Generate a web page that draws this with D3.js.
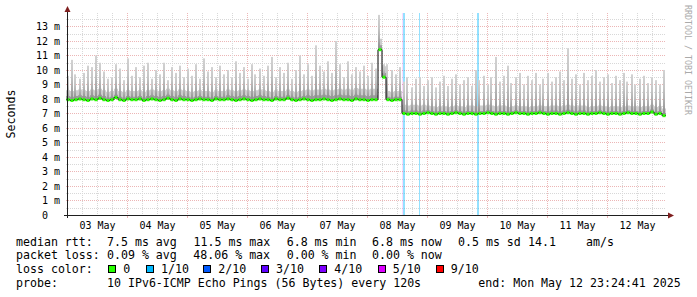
<!DOCTYPE html>
<html><head><meta charset="utf-8">
<script src="https://cdn.jsdelivr.net/npm/d3@7"></script>
<style>
html,body{margin:0;padding:0;background:#fff;}
svg{display:block;}
text{font-family:"DejaVu Sans Mono",monospace;}
</style></head><body>
<svg id="c" width="697" height="297"></svg>
<script>
// ---------------- data ----------------
const endTime = "2025-05-12T23:24:41Z";
const spanDays = 10;
const bucketMinutes = 96; // 150 buckets over 10 days

// highest ping per bucket (ms)
const maxPing = [
 9.6,10.7,9.7,9.4,9.8,10.3,10.2,11.0,10.5,9.9,
 9.4,9.5,10.4,10.1,9.3,10.8,9.6,10.2,9.5,10.3,
 10.5,9.4,10.0,9.7,10.5,9.3,10.2,9.8,10.3,9.5,
 10.1,9.6,10.4,9.4,10.8,9.9,10.2,9.5,10.3,9.7,
 10.0,9.5,10.6,9.8,10.2,9.4,10.4,9.7,10.1,9.6,
 10.3,10.9,9.5,10.2,9.8,10.5,9.4,10.0,11.0,9.7,
 10.4,9.6,11.7,10.3,9.9,10.6,9.8,12.0,10.4,9.5,
 10.6,9.7,10.2,9.9,10.3,9.6,10.5,10.1,13.8,10.4,
 10.4,10.0,9.7,10.2,9.2,9.5,8.8,9.4,9.5,8.9,
 9.3,9.5,8.8,9.2,9.6,8.9,9.4,9.7,9.0,9.3,
 9.5,8.9,10.0,9.3,9.6,9.0,9.5,10.9,9.2,9.6,
 10.3,9.1,9.5,9.8,9.0,9.6,9.3,9.8,9.0,9.4,
 9.8,9.2,9.5,9.9,9.3,11.5,9.4,9.7,9.0,9.8,
 9.3,9.6,10.0,9.2,9.5,9.7,9.1,9.6,9.3,9.8,
 9.2,9.7,9.0,9.4,9.6,9.1,9.5,9.3,9.0,10.0
];
// median rtt per bucket (ms)
const medianRtt = [
 7.95,7.9,7.95,8.0,7.95,7.9,8.0,7.95,8.05,7.95,
 7.9,7.95,8.1,7.95,7.9,8.0,7.95,7.95,8.0,7.9,
 7.95,8.0,7.95,7.9,7.95,8.05,7.95,7.9,8.0,7.95,
 7.95,7.9,7.95,8.0,7.95,7.95,7.9,8.0,7.95,7.95,
 8.0,7.95,7.9,7.95,8.0,7.95,7.9,7.95,8.0,7.95,
 7.95,7.9,8.0,7.95,7.95,8.05,7.95,7.9,7.95,8.0,
 7.95,7.9,7.95,7.95,8.0,7.95,7.9,7.95,8.0,7.95,
 7.95,7.9,8.0,7.95,7.95,7.9,7.95,7.95,11.4,9.5,
 7.95,7.9,7.95,7.95,
 7.0,6.95,7.0,7.0,6.95,7.0,7.05,7.0,6.95,7.0,
 7.0,6.95,7.0,7.05,7.0,6.95,7.0,7.0,6.95,7.0,
 7.0,7.05,7.0,6.95,7.0,7.0,6.95,7.0,7.05,7.0,
 7.0,6.95,7.0,7.0,7.05,7.0,6.95,7.0,7.0,6.95,
 7.0,7.05,7.0,6.95,7.0,7.0,6.95,7.0,7.0,7.05,
 7.0,6.95,7.0,7.0,6.95,7.0,7.05,7.0,7.0,6.95,
 7.0,7.0,7.1,6.95,7.0,6.85
];
// smoke depth above the median, per group of 10 buckets (ms)
const lightSmoke = [0.65,0.6,0.65,0.6,0.65,0.6,0.7,0.75,0.6,0.5,0.55,0.5,0.55,0.5,0.5];
const darkSmoke  = [0.25,0.2,0.25,0.2,0.25,0.2,0.3,0.3,0.2,0.18,0.18,0.18,0.2,0.18,0.18];

// loss periods
const lossPeriods = [
 {from:"2025-05-08T13:48:41Z", to:"2025-05-08T14:12:41Z", level:5},
 {from:"2025-05-08T14:12:41Z", to:"2025-05-08T15:00:41Z", level:1},
 {from:"2025-05-08T20:36:41Z", to:"2025-05-08T21:00:41Z", level:1},
 {from:"2025-05-09T19:36:41Z", to:"2025-05-09T20:24:41Z", level:1}
];
const lossLevels = ["0","1/10","2/10","3/10","4/10","5/10","9/10"];
const lossColors = ["#26ff00","#00b8ff","#0059ff","#5e00ff","#7e00ff","#dd00ff","#ff0000"];
const lossIndex = {0:0,1:1,2:2,3:3,4:4,5:5,9:6};

const yTicks = [0,1,2,3,4,5,6,7,8,9,10,11,12,13];
const yMax = 13.93;
const dayLabels = ["03 May","04 May","05 May","06 May","07 May","08 May","09 May","10 May","11 May","12 May"];
const dayDates = ["2025-05-03","2025-05-04","2025-05-05","2025-05-06","2025-05-07","2025-05-08","2025-05-09","2025-05-10","2025-05-11","2025-05-12"];

const legendRtt = [["median rtt:",16],["7.5 ms avg",107],["11.5 ms max",193.5],["6.8 ms min",286.7],["6.8 ms now",372],["0.5 ms sd",458],["14.1",528],["am/s",586]];
const legendLoss = [["packet loss:",16],["0.09 % avg",107],["48.06 % max",193.3],["0.00 % min",286.7],["0.00 % now",372]];
const legendProbe = [["probe:",16],["10 IPv6-ICMP Echo Pings (56 Bytes) every 120s",107],["end: Mon May 12 23:24:41 2025",478.3]];

// ---------------- drawing ----------------
const svg = d3.select("#c");
const end = new Date(endTime);
const start = new Date(end.getTime() - spanDays*86400000);
const L=66, R=666, B=215, T=13;
const x = d3.scaleUtc().domain([start,end]).range([L,R]);
const y = d3.scaleLinear().domain([0,yMax]).range([B,T]);
const bt = i => new Date(start.getTime() + i*bucketMinutes*60000);
const px = v => Math.round(v)+0.5;

const defs = svg.append("defs");
const g1 = defs.append("linearGradient").attr("id","smk").attr("x1",0).attr("y1",1).attr("x2",0).attr("y2",0);
g1.append("stop").attr("offset",0).attr("stop-color","#8a8a8a");
g1.append("stop").attr("offset",0.3).attr("stop-color","#aaaaaa");
g1.append("stop").attr("offset",0.6).attr("stop-color","#c4c4c4");
g1.append("stop").attr("offset",1).attr("stop-color","#d2d2d2");

// grid
const grid = svg.append("g");
const minorC = "#d8d8d8", majorC = "#ecb6b6";
for (let v=0.5; v<yMax; v+=1) {
  grid.append("line").attr("x1",L).attr("x2",R).attr("y1",px(y(v))).attr("y2",px(y(v)))
    .attr("stroke",minorC).attr("stroke-dasharray","1,1");
}
yTicks.filter(v=>v>0).forEach(v=>{
  grid.append("line").attr("x1",L).attr("x2",R).attr("y1",px(y(v))).attr("y2",px(y(v)))
    .attr("stroke",majorC).attr("stroke-dasharray","1,1");
});
d3.utcHour.every(6).range(start,end).forEach(t=>{
  const major = t.getUTCHours()===0;
  grid.append("line").attr("x1",px(x(t))).attr("x2",px(x(t))).attr("y1",T).attr("y2",B)
    .attr("stroke", major?majorC:minorC).attr("stroke-dasharray","1,1");
  if (major) grid.append("line").attr("x1",px(x(t))).attr("x2",px(x(t))).attr("y1",B).attr("y2",B+3).attr("stroke",majorC);
});

// loss background
lossPeriods.forEach(p=>{
  const x0 = x(new Date(p.from)), x1 = x(new Date(p.to));
  svg.append("rect").attr("x",Math.round(x0)).attr("y",T).attr("width",Math.max(1,Math.round(x1)-Math.round(x0))).attr("height",B-T)
    .attr("fill",lossColors[lossIndex[p.level]]).attr("fill-opacity",p.level===1?0.42:0.14);
});

// smoke
const idx = d3.range(maxPing.length);
const areaOf = arr => d3.area().curve(d3.curveStepAfter)
  .x(d=>x(bt(d))).y0(d=>y(medianRtt[Math.min(d,medianRtt.length-1)]))
  .y1(d=>y(medianRtt[Math.min(d,medianRtt.length-1)] + arr[Math.min(Math.floor(d/10),arr.length-1)]));
const idxEnd = idx.concat([maxPing.length]);
svg.append("path").datum(idxEnd).attr("d",areaOf(lightSmoke)).attr("fill","#cdcdcd");
svg.append("path").datum(idxEnd).attr("d",areaOf(darkSmoke)).attr("fill","#9c9c9c");
svg.append("g").selectAll("rect").data(idx).join("rect")
  .attr("x",d=>Math.floor(x(new Date(bt(d).getTime()+bucketMinutes*30000)))-1)
  .attr("width",2)
  .attr("y",d=>y(maxPing[d]))
  .attr("height",d=>y(medianRtt[d])-y(maxPing[d]))
  .attr("fill","url(#smk)");

// median: black step line + green horizontal segments
const line = d3.line().curve(d3.curveStepAfter).x(d=>x(bt(d))).y(d=>y(medianRtt[Math.min(d,medianRtt.length-1)]));
svg.append("path").datum(idxEnd).attr("d",line).attr("fill","none").attr("stroke","#000").attr("stroke-width",1);
svg.append("g").selectAll("line").data(idx).join("line")
  .attr("x1",d=>x(bt(d))+0.5).attr("x2",d=>x(bt(d+1))-0.5)
  .attr("y1",d=>y(medianRtt[d])).attr("y2",d=>y(medianRtt[d]))
  .attr("stroke",lossColors[0]).attr("stroke-width",3);

// axes
svg.append("line").attr("x1",L+1.5).attr("x2",L+1.5).attr("y1",B+3).attr("y2",10).attr("stroke","#1f1f1f");
svg.append("line").attr("x1",L-2).attr("x2",671).attr("y1",B+0.5).attr("y2",B+0.5).attr("stroke","#1f1f1f");
svg.append("path").attr("d",`M${L-1.5},12 L${L+1.5},6 L${L+4.5},12 Z`).attr("fill","#7f1f1f");
svg.append("path").attr("d",`M668,${B-2.5} L674,${B+0.5} L668,${B+3.5} Z`).attr("fill","#7f1f1f");

// y labels
yTicks.forEach(v=>{
  svg.append("text").attr("x",48).attr("y",y(v)+3.6).attr("text-anchor","end").attr("font-size",10).attr("fill","#000").text(v);
  if (v>0) svg.append("text").attr("x",54).attr("y",y(v)+3.6).attr("font-size",10).attr("fill","#000").text("m");
});
// x labels at noon of each day
dayDates.forEach((d,i)=>{
  const t = new Date(d+"T12:00:00Z");
  svg.append("text").attr("x",x(t)).attr("y",228.5).attr("text-anchor","middle").attr("font-size",10).attr("fill","#000").text(dayLabels[i]);
});

// titles
svg.append("text").attr("transform","translate(14.5,114) rotate(-90)").attr("text-anchor","middle").attr("font-size",11.6).attr("fill","#000").text("Seconds");
svg.append("text").attr("transform","translate(685,5) rotate(90)").attr("font-size",8.3).attr("fill","#aaaaaa").text("RRDTOOL / TOBI OETIKER");

// legend
const leg = (items, yb) => items.forEach(([s,xx])=>svg.append("text").attr("x",xx).attr("y",yb).attr("font-size",11.6).attr("fill","#000").text(s));
leg(legendRtt,245.7);
leg(legendLoss,259.3);
svg.append("text").attr("x",16).attr("y",273).attr("font-size",11.6).attr("fill","#000").text("loss color:");
const boxX = [108.3,146,203.3,261,319.3,377.7,435.7];
lossLevels.forEach((s,i)=>{
  svg.append("rect").attr("x",Math.round(boxX[i])+0.5).attr("y",265.5).attr("width",7).attr("height",7)
    .attr("fill",lossColors[i]).attr("stroke","#000").attr("stroke-width",1);
  svg.append("text").attr("x",boxX[i]+15).attr("y",273).attr("font-size",11.6).attr("fill","#000").text(s);
});
leg(legendProbe,286.7);
</script>
</body></html>
